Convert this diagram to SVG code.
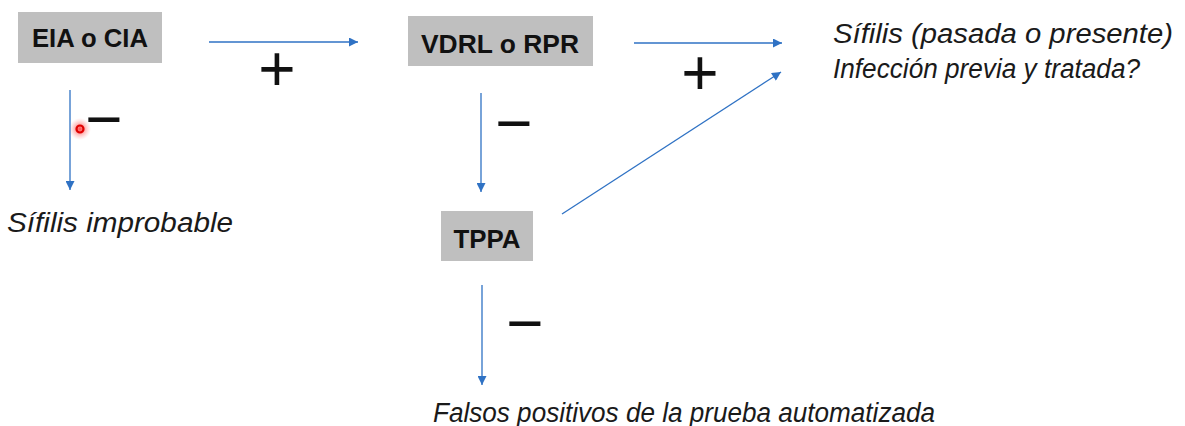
<svg xmlns="http://www.w3.org/2000/svg" width="1185" height="426" viewBox="0 0 1185 426">
  <defs>
    <marker id="arr" viewBox="0 0 10 10" refX="10" refY="5" markerWidth="10" markerHeight="9" markerUnits="userSpaceOnUse" orient="auto">
      <path d="M0,0 L10,5 L0,10 Z" fill="#2f72c4"/>
    </marker>
    <radialGradient id="glow">
      <stop offset="0" stop-color="#ff2020" stop-opacity="0.8"/>
      <stop offset="0.5" stop-color="#ff4040" stop-opacity="0.35"/>
      <stop offset="1" stop-color="#ff8080" stop-opacity="0"/>
    </radialGradient>
  </defs>
  <style>
    .box { fill: #bfbfbf; }
    .lbl { font-family: "Liberation Sans", Arial, sans-serif; font-weight: bold; font-size: 26px; fill: #111; text-anchor: middle; }
    .it { font-family: "Liberation Sans", Arial, sans-serif; font-style: italic; font-size: 27px; fill: #1a1a1a; }
    .sign { font-family: "Liberation Sans", Arial, sans-serif; font-size: 64px; fill: #111; text-anchor: middle; }
    .conn { stroke: #2f72c4; stroke-width: 1.3; fill: none; marker-end: url(#arr); }
  </style>
  <rect width="1185" height="426" fill="#ffffff"/>

  <g id="connectors">
    <line class="conn" x1="209" y1="42" x2="358" y2="42"/>
    <line class="conn" x1="634" y1="43" x2="782" y2="43"/>
    <line class="conn" x1="70" y1="90" x2="70" y2="190"/>
    <line class="conn" x1="481" y1="93" x2="481" y2="192"/>
    <line class="conn" x1="482" y1="285" x2="482" y2="385"/>
    <line class="conn" x1="562" y1="214" x2="781" y2="72"/>
  </g>

  <g id="signs">
    <text class="sign" x="277" y="91">+</text>
    <text class="sign" x="700" y="95">+</text>
    <text class="sign" x="104" y="141">−</text>
    <text class="sign" x="514" y="145">−</text>
    <text class="sign" x="525" y="345">−</text>
  </g>

  <g id="node-eia">
    <rect class="box" x="18" y="12" width="144" height="51"/>
    <text class="lbl" x="90" y="47" textLength="116" lengthAdjust="spacingAndGlyphs">EIA o CIA</text>
  </g>
  <g id="node-vdrl">
    <rect class="box" x="408" y="16" width="185" height="50"/>
    <text class="lbl" x="500" y="53" textLength="158" lengthAdjust="spacingAndGlyphs">VDRL o RPR</text>
  </g>
  <g id="node-tppa">
    <rect class="box" x="441" y="211" width="92" height="50"/>
    <text class="lbl" x="487" y="248" textLength="67" lengthAdjust="spacingAndGlyphs">TPPA</text>
  </g>
  <g id="node-sifilis">
    <text class="it" x="833" y="43" textLength="340" lengthAdjust="spacingAndGlyphs">Sífilis (pasada o presente)</text>
    <text class="it" x="833" y="78" textLength="307" lengthAdjust="spacingAndGlyphs">Infección previa y tratada?</text>
  </g>
  <g id="node-improbable">
    <text class="it" x="7" y="232" textLength="226" lengthAdjust="spacingAndGlyphs">Sífilis improbable</text>
  </g>
  <g id="node-falsos">
    <text class="it" x="433" y="422" textLength="502" lengthAdjust="spacingAndGlyphs">Falsos positivos de la prueba automatizada</text>
  </g>

  <g id="pointer">
    <circle cx="80" cy="129" r="11" fill="url(#glow)"/>
    <circle cx="80" cy="129" r="3.5" fill="none" stroke="#e00000" stroke-width="2.2"/>
  </g>
</svg>
